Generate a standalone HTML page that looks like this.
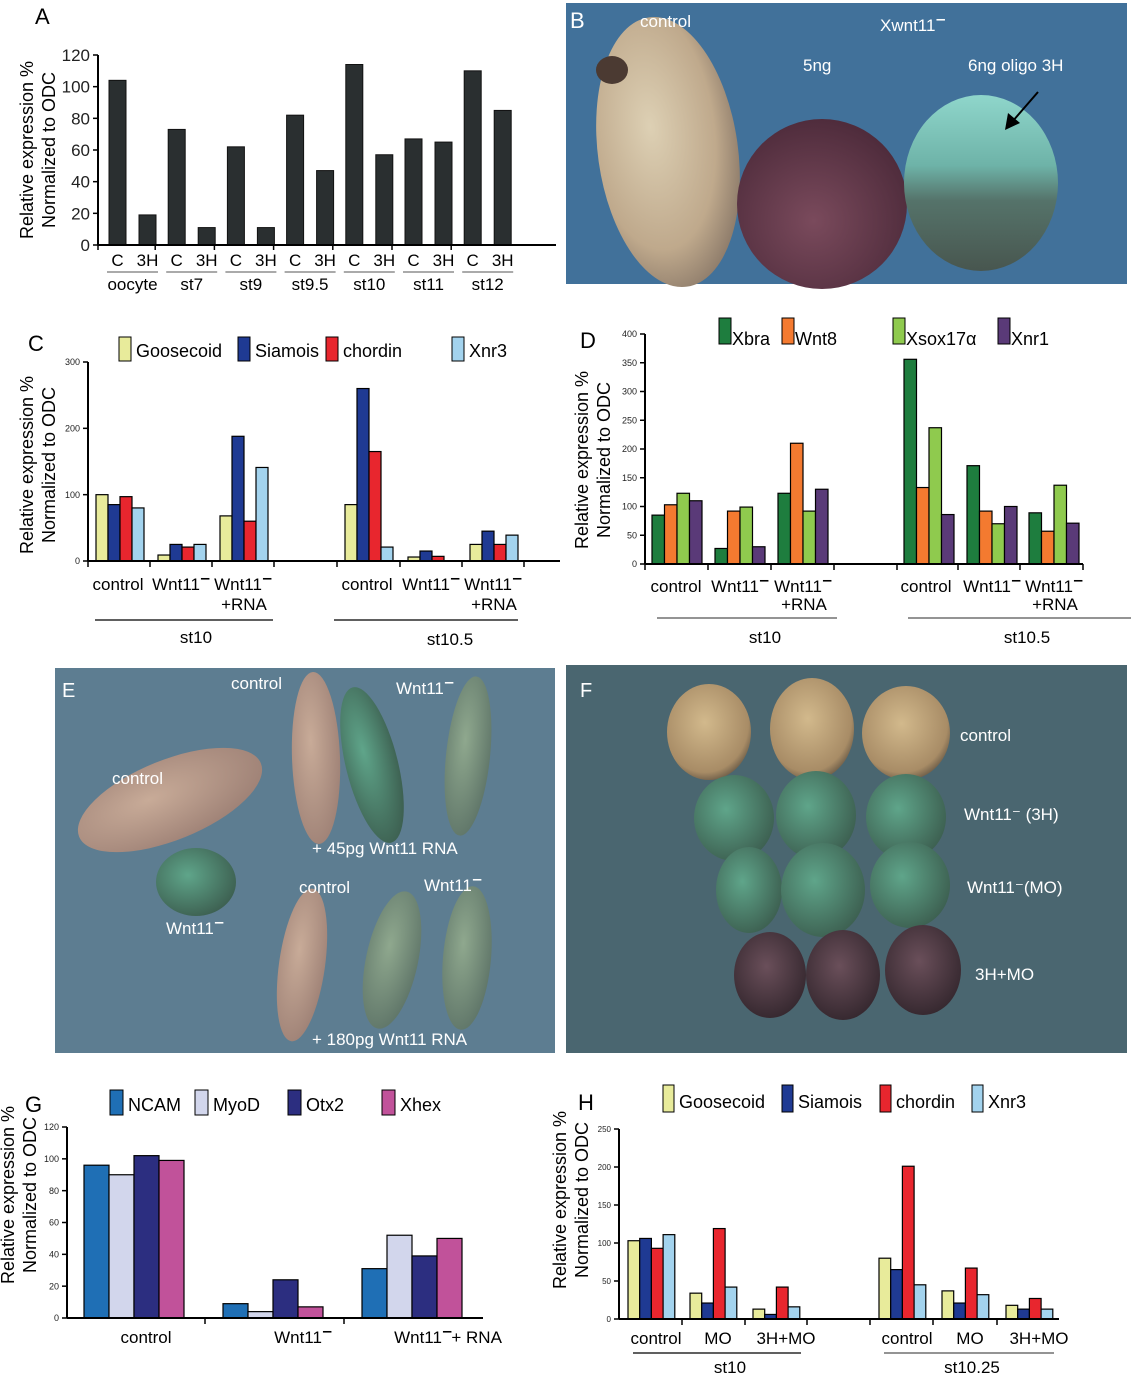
<!DOCTYPE html>
<html><head><meta charset="utf-8"><style>
body{margin:0;background:#fff}
svg{display:block;font-family:"Liberation Sans",Arial,sans-serif}
</style></head><body>
<svg id="fig" width="1131" height="1373" viewBox="0 0 1131 1373" xmlns="http://www.w3.org/2000/svg">
<defs>
<radialGradient id="gBeige" cx="40%" cy="40%" r="65%"><stop offset="0" stop-color="#ddd0b4"/><stop offset="0.7" stop-color="#bfa98c"/><stop offset="1" stop-color="#8d7b6a"/></radialGradient>
<radialGradient id="gPurple" cx="45%" cy="60%" r="60%"><stop offset="0" stop-color="#7a4a5c"/><stop offset="1" stop-color="#4f2c3c"/></radialGradient>
<linearGradient id="gTeal" x1="0" y1="0" x2="0" y2="1"><stop offset="0" stop-color="#8fd6cb"/><stop offset="0.4" stop-color="#6eb3a8"/><stop offset="0.6" stop-color="#55736a"/><stop offset="1" stop-color="#48564f"/></linearGradient>
<radialGradient id="gPink" cx="40%" cy="40%" r="70%"><stop offset="0" stop-color="#c8ab98"/><stop offset="1" stop-color="#9c7f74"/></radialGradient>
<radialGradient id="gGreen" cx="40%" cy="40%" r="70%"><stop offset="0" stop-color="#5fa58a"/><stop offset="1" stop-color="#3a5a4c"/></radialGradient>
<radialGradient id="gGreenPale" cx="40%" cy="40%" r="70%"><stop offset="0" stop-color="#8fa88e"/><stop offset="1" stop-color="#5c7266"/></radialGradient>
<radialGradient id="gTan" cx="45%" cy="40%" r="65%"><stop offset="0" stop-color="#d2b98c"/><stop offset="0.8" stop-color="#a88c66"/><stop offset="1" stop-color="#5d5040"/></radialGradient>
<radialGradient id="gDark" cx="45%" cy="40%" r="65%"><stop offset="0" stop-color="#6a4f5a"/><stop offset="1" stop-color="#33262d"/></radialGradient>
</defs>

<g>
<rect x="566" y="3" width="561" height="281" fill="#41719a"/>
<ellipse cx="668" cy="152" rx="70" ry="136" transform="rotate(-8 668 152)" fill="url(#gBeige)"/>
<ellipse cx="612" cy="70" rx="16" ry="14" fill="#4b3a32"/>
<circle cx="822" cy="204" r="85" fill="url(#gPurple)"/>
<ellipse cx="981" cy="183" rx="77" ry="88" fill="url(#gTeal)"/>
<line x1="1038" y1="92" x2="1012" y2="122" stroke="#000" stroke-width="2"/>
<polygon points="1005,130 1008,113 1020,123" fill="#000"/>
<text x="570" y="28" font-size="22" fill="#fff">B</text>
<text x="640" y="27" font-size="17" fill="#fff">control</text>
<text x="880" y="31" font-size="17" fill="#fff" class="mn" data-mlen="6">Xwnt11</text>
<text x="803" y="71" font-size="17" fill="#fff">5ng</text>
<text x="968" y="71" font-size="17" fill="#fff">6ng  oligo 3H</text>
</g>

<g>
<rect x="55" y="668" width="500" height="385" fill="#5d7d91"/>
<ellipse cx="170" cy="800" rx="98" ry="40" transform="rotate(-22 170 800)" fill="url(#gPink)"/>
<ellipse cx="196" cy="882" rx="40" ry="34" fill="url(#gGreen)"/>
<ellipse cx="316" cy="758" rx="24" ry="86" transform="rotate(-2 316 758)" fill="url(#gPink)"/>
<ellipse cx="372" cy="765" rx="26" ry="80" transform="rotate(-14 372 765)" fill="url(#gGreen)"/>
<ellipse cx="468" cy="756" rx="22" ry="80" transform="rotate(6 468 756)" fill="url(#gGreenPale)"/>
<ellipse cx="302" cy="965" rx="23" ry="77" transform="rotate(8 302 965)" fill="url(#gPink)"/>
<ellipse cx="392" cy="960" rx="26" ry="70" transform="rotate(12 392 960)" fill="url(#gGreenPale)"/>
<ellipse cx="467" cy="958" rx="24" ry="72" transform="rotate(5 467 958)" fill="url(#gGreenPale)"/>
<text x="62" y="697" font-size="20" fill="#fff">E</text>
<text x="231" y="689" font-size="17" fill="#fff">control</text>
<text x="396" y="694" font-size="17" fill="#fff" class="mn" data-mlen="5">Wnt11</text>
<text x="112" y="784" font-size="17" fill="#fff">control</text>
<text x="166" y="934" font-size="17" fill="#fff" class="mn" data-mlen="5">Wnt11</text>
<text x="312" y="854" font-size="17" fill="#fff">+ 45pg Wnt11 RNA</text>
<text x="299" y="893" font-size="17" fill="#fff">control</text>
<text x="424" y="891" font-size="17" fill="#fff" class="mn" data-mlen="5">Wnt11</text>
<text x="312" y="1045" font-size="17" fill="#fff">+ 180pg Wnt11 RNA</text>
</g>

<g>
<rect x="566" y="665" width="561" height="388" fill="#4a6670"/>
<ellipse cx="709" cy="732" rx="42" ry="48" fill="url(#gTan)"/>
<ellipse cx="812" cy="729" rx="42" ry="51" fill="url(#gTan)"/>
<ellipse cx="906" cy="733" rx="44" ry="47" fill="url(#gTan)"/>
<ellipse cx="734" cy="818" rx="40" ry="43" fill="url(#gGreen)"/>
<ellipse cx="816" cy="815" rx="40" ry="44" fill="url(#gGreen)"/>
<ellipse cx="906" cy="817" rx="40" ry="43" fill="url(#gGreen)"/>
<ellipse cx="749" cy="890" rx="33" ry="43" fill="url(#gGreen)"/>
<ellipse cx="823" cy="890" rx="42" ry="47" fill="url(#gGreen)"/>
<ellipse cx="910" cy="885" rx="40" ry="43" fill="url(#gGreen)"/>
<ellipse cx="770" cy="975" rx="36" ry="43" fill="url(#gDark)"/>
<ellipse cx="843" cy="975" rx="37" ry="45" fill="url(#gDark)"/>
<ellipse cx="923" cy="970" rx="38" ry="45" fill="url(#gDark)"/>
<text x="580" y="697" font-size="20" fill="#fff">F</text>
<text x="960" y="741" font-size="17" fill="#fff">control</text>
<text x="964" y="820" font-size="17" fill="#fff">Wnt11⁻ (3H)</text>
<text x="967" y="893" font-size="17" fill="#fff">Wnt11⁻(MO)</text>
<text x="975" y="980" font-size="17" fill="#fff">3H+MO</text>
</g>

<g id="charts"></g>
</svg>
<script>
const aGroups = ["oocyte","st7","st9","st9.5","st10","st11","st12"];
const aControl = [104,73,62,82,114,67,110];
const a3H = [19,11,11,47,57,65,85];
const aTicks = [0,20,40,60,80,100,120];
const cCategories = ["control","Wnt11","Wnt11","control","Wnt11","Wnt11"];
const cGoosecoid = [100,9,68,85,6,25];
const cSiamois = [85,25,188,260,15,45];
const cChordin = [97,21,60,165,7,25];
const cXnr3 = [80,25,141,21,0,39];
const cTicks = [0,100,200,300];
const dXbra = [85,27,123,356,171,89];
const dWnt8 = [103,92,210,133,92,57];
const dXsox17 = [123,99,92,237,70,137];
const dXnr1 = [110,30,130,86,100,71];
const dTicks = [0,50,100,150,200,250,300,350,400];
const gCategories = ["control","Wnt11","Wnt11\u00a0\u00a0+ RNA"];
const gNCAM = [96,9,31];
const gMyoD = [90,4,52];
const gOtx2 = [102,24,39];
const gXhex = [99,7,50];
const gTicks = [0,20,40,60,80,100,120];
const hCategories = ["control","MO","3H+MO","control","MO","3H+MO"];
const hGoosecoid = [103,34,13,80,37,18];
const hSiamois = [106,21,6,65,21,13];
const hChordin = [93,119,42,201,67,27];
const hXnr3 = [111,42,16,45,32,13];
const hTicks = [0,50,100,150,200,250];

const NS = "http://www.w3.org/2000/svg";
const root = document.getElementById('charts');
function mk(tag, attrs, parent, text) {
  const e = document.createElementNS(NS, tag);
  for (const k in attrs) e.setAttribute(k, attrs[k]);
  if (text !== undefined) e.textContent = text;
  (parent || root).appendChild(e);
  return e;
}
function scaleY(y0, yTop, vmax) { return v => y0 - (v / vmax) * (y0 - yTop); }

function yAxis(g, x, y0, yTop, ticks, vmax, fs) {
  const sy = scaleY(y0, yTop, vmax);
  const ax = mk('line', {x1:x, y1:y0, x2:x, y2:yTop, stroke:'#000', 'stroke-width':2}, g);
  
  
  ticks.forEach(t => {
    mk('line', {x1:x-5, y1:sy(t), x2:x, y2:sy(t), stroke:'#000', 'stroke-width':1.5}, g);
    const tl = mk('text', {x:x-8, y:sy(t)+fs*0.35, 'font-size':fs, 'text-anchor':'end', fill:'#222'}, g, String(t));
    
    
  });
}
function yTitle(g, cx, cy, fs) {
  const t1 = mk('text', {x:0, y:0, 'font-size':fs, 'text-anchor':'middle', transform:`translate(${cx-22},${cy}) rotate(-90)`}, g, 'Relative expression %');
  
  
  const t2 = mk('text', {x:0, y:0, 'font-size':fs, 'text-anchor':'middle', transform:`translate(${cx},${cy}) rotate(-90)`}, g, 'Normalized to ODC');
  
  
}
function legend(g, items, y, h, w, fs) {
  items.forEach(it => {
    const lg = mk('g', {}, g);
    
    
    mk('rect', {x:it.x, y:y, width:w, height:h, fill:it.color, stroke:'#000', 'stroke-width':1}, lg);
    mk('text', {x:it.x+w+5, y:y+h-4, 'font-size':fs}, lg, it.label);
  });
}
function addMinus(t, n) {
  const fs = parseFloat(t.getAttribute('font-size'));
  const bb = t.getBBox();
  const sub = t.getSubStringLength(0, n);
  const x = bb.x + sub + 1;
  const y = parseFloat(t.getAttribute('y')) - fs * 0.66;
  const col = t.getAttribute('fill') || '#000';
  const l = document.createElementNS(NS, 'line');
  l.setAttribute('x1', x); l.setAttribute('x2', x + fs * 0.5);
  l.setAttribute('y1', y); l.setAttribute('y2', y);
  l.setAttribute('stroke', col); l.setAttribute('stroke-width', 1.6);
  t.parentNode.appendChild(l);
}

(function(){
  const g = mk('g', {});  
  mk('text', {x:35, y:24, 'font-size':22}, g, 'A');
  const x0 = 98, y0 = 245, yTop = 55, vmax = 120, step = 59.2, bw = 17;
  const sy = scaleY(y0, yTop, vmax);
  aGroups.forEach((name, i) => {
    const xc = 109 + step*i, x3 = 139 + step*i;
    const b1 = mk('rect', {x:xc, y:sy(aControl[i]), width:bw, height:y0-sy(aControl[i]), fill:'#2a2f30', stroke:'#111'}, g);
    
    
    const b2 = mk('rect', {x:x3, y:sy(a3H[i]), width:bw, height:y0-sy(a3H[i]), fill:'#2a2f30', stroke:'#111'}, g);
    
    
    mk('text', {x:xc+bw/2, y:266, 'font-size':17, 'text-anchor':'middle'}, g, 'C');
    mk('text', {x:x3+bw/2, y:266, 'font-size':17, 'text-anchor':'middle'}, g, '3H');
    mk('line', {x1:xc-2, y1:272, x2:x3+bw+2, y2:272, stroke:'#555', 'stroke-width':1}, g);
    const gl = mk('text', {x:(xc+x3+bw)/2, y:290, 'font-size':17, 'text-anchor':'middle'}, g, name);
    
    
    mk('line', {x1:x0+step*i+ (i? -2:0), y1:y0, x2:x0+step*i+(i?-2:0), y2:y0+5, stroke:'#000', 'stroke-width':1.5}, g);
  });
  mk('line', {x1:x0, y1:y0, x2:556, y2:y0, stroke:'#000', 'stroke-width':2}, g);
  yAxis(g, x0, y0, yTop, aTicks, vmax, 17);
  yTitle(g, 55, 150, 18);
})();

function grouped(cfg) {
  const g = mk('g', {});  
  const sy = scaleY(cfg.y0, cfg.yTop, cfg.vmax);
  cfg.series.forEach((s, si) => {
    s.values.forEach((v, gi) => {
      const x = cfg.groupStarts[gi] + si*cfg.bw;
      const r = mk('rect', {x:x, y:sy(v), width:cfg.bw, height:Math.max(0, cfg.y0 - sy(v)), fill:s.color, stroke:'#000', 'stroke-width':1.2}, g);
      
      
    });
  });
  mk('line', {x1:cfg.x0, y1:cfg.y0, x2:cfg.xEnd, y2:cfg.y0, stroke:'#000', 'stroke-width':2}, g);
  (cfg.xTicks||[]).forEach(t => mk('line', {x1:t, y1:cfg.y0, x2:t, y2:cfg.y0+6, stroke:'#000', 'stroke-width':1.5}, g));
  yAxis(g, cfg.x0, cfg.y0, cfg.yTop, cfg.ticks, cfg.vmax, cfg.tfs);
  return g;
}

(function(){
  const starts = [96,158,220,345,408,470];
  const g = grouped({name:'panel-c-chart', x0:88, y0:561, yTop:362, vmax:300, bw:12, xEnd:560, groupStarts:starts, tfs:9, ticks:cTicks,
    xTicks:[88,150,212,274,337,400,462,524],
    series:[{key:'goosecoid',values:cGoosecoid,color:'#e8eb9b'},{key:'siamois',values:cSiamois,color:'#1f3a93'},{key:'chordin',values:cChordin,color:'#e8262e'},{key:'xnr3',values:cXnr3,color:'#a3d3ee'}]});
  mk('text', {x:28, y:351, 'font-size':22}, g, 'C');
  legend(g, [{x:119,label:'Goosecoid',color:'#e8eb9b'},{x:238,label:'Siamois',color:'#1f3a93'},{x:326,label:'chordin',color:'#e8262e'},{x:452,label:'Xnr3',color:'#a3d3ee'}], 337, 24, 12, 18);
  yTitle(g, 55, 465, 18);
  cCategories.forEach((c, i) => {
    const cx = starts[i] + 22;
    const t = mk('text', {x:cx, y:590, 'font-size':17, 'text-anchor':'middle'}, g, c);
     
    if (c === 'Wnt11') { t.setAttribute('x', cx - 4); addMinus(t, 5); }
    if (i === 2 || i === 5) mk('text', {x:cx+2, y:610, 'font-size':17, 'text-anchor':'middle'}, g, '+RNA');
  });
  mk('line', {x1:95, y1:620, x2:273, y2:620, stroke:'#000', 'stroke-width':1.2}, g);
  mk('line', {x1:334, y1:620, x2:518, y2:620, stroke:'#000', 'stroke-width':1.2}, g);
  mk('text', {x:196, y:643, 'font-size':17, 'text-anchor':'middle'}, g, 'st10');
  mk('text', {x:450, y:645, 'font-size':17, 'text-anchor':'middle'}, g, 'st10.5');
})();

(function(){
  const starts = [652,715,778,904,967,1029];
  const g = grouped({name:'panel-d-chart', x0:645, y0:564, yTop:334, vmax:400, bw:12.5, xEnd:1083, groupStarts:starts, tfs:9, ticks:dTicks,
    xTicks:[645,708,771,834,897,958,1020,1083],
    series:[{key:'xbra',values:dXbra,color:'#1e7d3e'},{key:'wnt8',values:dWnt8,color:'#f47a30'},{key:'xsox17',values:dXsox17,color:'#8fca4e'},{key:'xnr1',values:dXnr1,color:'#5a3a78'}]});
  mk('text', {x:580, y:348, 'font-size':22}, g, 'D');
  [{x:719,l:'Xbra',c:'#1e7d3e'},{x:782,l:'Wnt8',c:'#f47a30'},{x:893,l:'Xsox17α',c:'#8fca4e'},{x:998,l:'Xnr1',c:'#5a3a78'}].forEach(it => {
    const lg = mk('g', {}, g);  
    mk('rect', {x:it.x, y:318, width:12, height:26, fill:it.c, stroke:'#000'}, lg);
    mk('text', {x:it.x+13, y:345, 'font-size':18}, lg, it.l);
  });
  yTitle(g, 610, 460, 18);
  ['control','Wnt11','Wnt11','control','Wnt11','Wnt11'].forEach((c, i) => {
    const cx = starts[i] + 24;
    const t = mk('text', {x:cx+ (i<3?0:-2), y:592, 'font-size':17, 'text-anchor':'middle'}, g, c);
     
    if (c === 'Wnt11') { t.setAttribute('x', cx - 4); addMinus(t, 5); }
    if (i === 2 || i === 5) mk('text', {x:cx+2, y:610, 'font-size':17, 'text-anchor':'middle'}, g, '+RNA');
  });
  mk('line', {x1:657, y1:618, x2:837, y2:618, stroke:'#555', 'stroke-width':1.2}, g);
  mk('line', {x1:908, y1:618, x2:1131, y2:618, stroke:'#555', 'stroke-width':1.2}, g);
  mk('text', {x:765, y:643, 'font-size':17, 'text-anchor':'middle'}, g, 'st10');
  mk('text', {x:1027, y:643, 'font-size':17, 'text-anchor':'middle'}, g, 'st10.5');
})();

(function(){
  const starts = [84,223,362];
  const g = grouped({name:'panel-g-chart', x0:67, y0:1318, yTop:1127, vmax:120, bw:25, xEnd:483, groupStarts:starts, tfs:9, ticks:gTicks,
    xTicks:[205,344],
    series:[{key:'ncam',values:gNCAM,color:'#1f6fb5'},{key:'myod',values:gMyoD,color:'#d2d6ec'},{key:'otx2',values:gOtx2,color:'#2c2e80'},{key:'xhex',values:gXhex,color:'#c1529a'}]});
  mk('text', {x:25, y:1112, 'font-size':22}, g, 'G');
  legend(g, [{x:110,label:'NCAM',color:'#1f6fb5'},{x:195,label:'MyoD',color:'#d2d6ec'},{x:288,label:'Otx2',color:'#2c2e80'},{x:382,label:'Xhex',color:'#c1529a'}], 1090, 25, 13, 18);
  yTitle(g, 36, 1195, 18);
  const xs = [146, 298, 448];
  xs.forEach((x,i) => {
    const t = mk('text', {x:x, y:1343, 'font-size':17, 'text-anchor':'middle'}, g, gCategories[i]);
     
    if (i > 0) addMinus(t, 5);
  });
})();

(function(){
  const starts = [628,690,753,879,942,1006];
  const g = grouped({name:'panel-h-chart', x0:619, y0:1319, yTop:1129, vmax:250, bw:11.7, xEnd:1059, groupStarts:starts, tfs:8, ticks:hTicks,
    xTicks:[682,745,807,870,933,997],
    series:[{key:'goosecoid',values:hGoosecoid,color:'#e8eb9b'},{key:'siamois',values:hSiamois,color:'#1f3a93'},{key:'chordin',values:hChordin,color:'#e8262e'},{key:'xnr3',values:hXnr3,color:'#a3d3ee'}]});
  mk('text', {x:578, y:1110, 'font-size':22}, g, 'H');
  legend(g, [{x:663,label:'Goosecoid',color:'#e8eb9b'},{x:782,label:'Siamois',color:'#1f3a93'},{x:880,label:'chordin',color:'#e8262e'},{x:972,label:'Xnr3',color:'#a3d3ee'}], 1085, 27, 11, 18);
  yTitle(g, 588, 1200, 18);
  hCategories.forEach((c, i) => {
    const t = mk('text', {x:starts[i]+ (i%3===2?33:28), y:1344, 'font-size':17, 'text-anchor':'middle'}, g, c);
     
  });
  mk('line', {x1:633, y1:1353, x2:801, y2:1353, stroke:'#000', 'stroke-width':1.2}, g);
  mk('line', {x1:884, y1:1353, x2:1054, y2:1353, stroke:'#555', 'stroke-width':1.2}, g);
  mk('text', {x:730, y:1373, 'font-size':17, 'text-anchor':'middle'}, g, 'st10');
  mk('text', {x:972, y:1373, 'font-size':17, 'text-anchor':'middle'}, g, 'st10.25');
})();

document.querySelectorAll('text.mn').forEach(t => addMinus(t, parseInt(t.getAttribute('data-mlen'))));
</script>
</body></html>
